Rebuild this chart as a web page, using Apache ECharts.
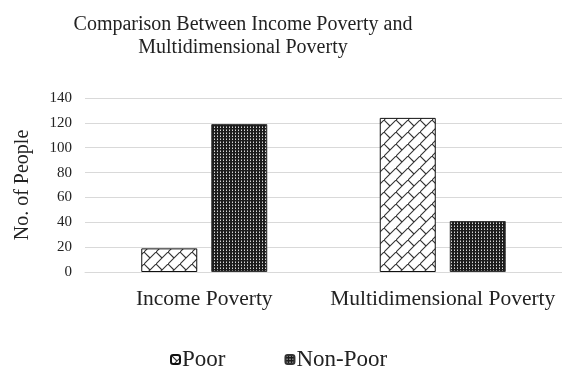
<!DOCTYPE html>
<html>
<head>
<meta charset="utf-8">
<script src="https://cdn.jsdelivr.net/npm/echarts@6/dist/echarts.min.js"></script>
<style>
  html, body { margin: 0; padding: 0; background: #fff; }
  #chart { width: 562px; height: 367px; }
</style>
</head>
<body>
<div id="chart"></div>
<script>
var categories = ['Income Poverty', 'Multidimensional Poverty'];
var poor = [19, 124];
var nonPoor = [119, 41];
var yTicks = [0, 20, 40, 60, 80, 100, 120, 140];

var font = "'Liberation Serif', 'Times New Roman', serif";

// diagonal brick fill for "Poor"
function brickPattern() {
    var s = 12;
    var c = document.createElement('canvas');
    c.width = s;
    c.height = s;
    var ctx = c.getContext('2d');
    ctx.fillStyle = '#fff';
    ctx.fillRect(0, 0, s, s);
    ctx.strokeStyle = '#333';
    ctx.lineWidth = 1.1;
    ctx.beginPath();
    ctx.moveTo(0, s);
    ctx.lineTo(s, 0);
    ctx.moveTo(0, 0);
    ctx.lineTo(s / 2, s / 2);
    ctx.stroke();
    return c;
}

// dotted grid fill for "Non-Poor"
function dotPattern() {
    var c = document.createElement('canvas');
    c.width = 3;
    c.height = 3;
    var ctx = c.getContext('2d');
    ctx.fillStyle = '#1c1c1c';
    ctx.fillRect(0, 0, 3, 3);
    ctx.fillStyle = '#d8d8d8';
    ctx.fillRect(1, 1, 1, 1);
    ctx.fillStyle = '#7a7a7a';
    ctx.fillRect(1, 0, 1, 1);
    return c;
}

var option = {
    animation: false,
    title: {
        text: 'Comparison Between Income Poverty and\nMultidimensional Poverty',
        left: 238,
        top: 8,
        textAlign: 'center',
        textStyle: {
            fontFamily: font,
            fontSize: 20,
            fontWeight: 'normal',
            color: '#222',
            lineHeight: 23
        }
    },
    legend: {
        left: 165,
        top: 343,
        itemWidth: 9,
        itemHeight: 9,
        itemGap: 59,
        textStyle: { fontFamily: font, fontSize: 23, color: '#222', padding: [0, 0, 0, -3] },
        data: ['Poor', 'Non-Poor']
    },
    grid: { left: 85, right: 0, top: 98, bottom: 95 },
    xAxis: {
        type: 'category',
        data: categories,
        axisTick: { show: false },
        axisLine: { lineStyle: { color: '#d9d9d9' } },
        axisLabel: { interval: 0, fontFamily: font, fontSize: 21.5, color: '#222', margin: 16 }
    },
    yAxis: {
        type: 'value',
        min: 0,
        max: yTicks[yTicks.length - 1],
        interval: 20,
        name: 'No. of People',
        nameLocation: 'middle',
        nameGap: 52,
        nameTextStyle: { fontFamily: font, fontSize: 20, color: '#222' },
        axisLabel: { fontFamily: font, fontSize: 15, color: '#222', margin: 13 },
        splitLine: { lineStyle: { color: '#d9d9d9' } }
    },
    series: [
        {
            name: 'Poor',
            type: 'bar',
            data: poor,
            barWidth: 56,
            barGap: '25%',
            itemStyle: {
                color: { image: brickPattern(), repeat: 'repeat' },
                borderColor: '#111',
                borderWidth: 1
            }
        },
        {
            name: 'Non-Poor',
            type: 'bar',
            data: nonPoor,
            barWidth: 56,
            itemStyle: {
                color: { image: dotPattern(), repeat: 'repeat' },
                borderColor: '#333',
                borderWidth: 1
            }
        }
    ]
};

window.onload = function() {
    var chart = echarts.init(document.getElementById('chart'));
    chart.setOption(option);
};
</script>
</body>
</html>
